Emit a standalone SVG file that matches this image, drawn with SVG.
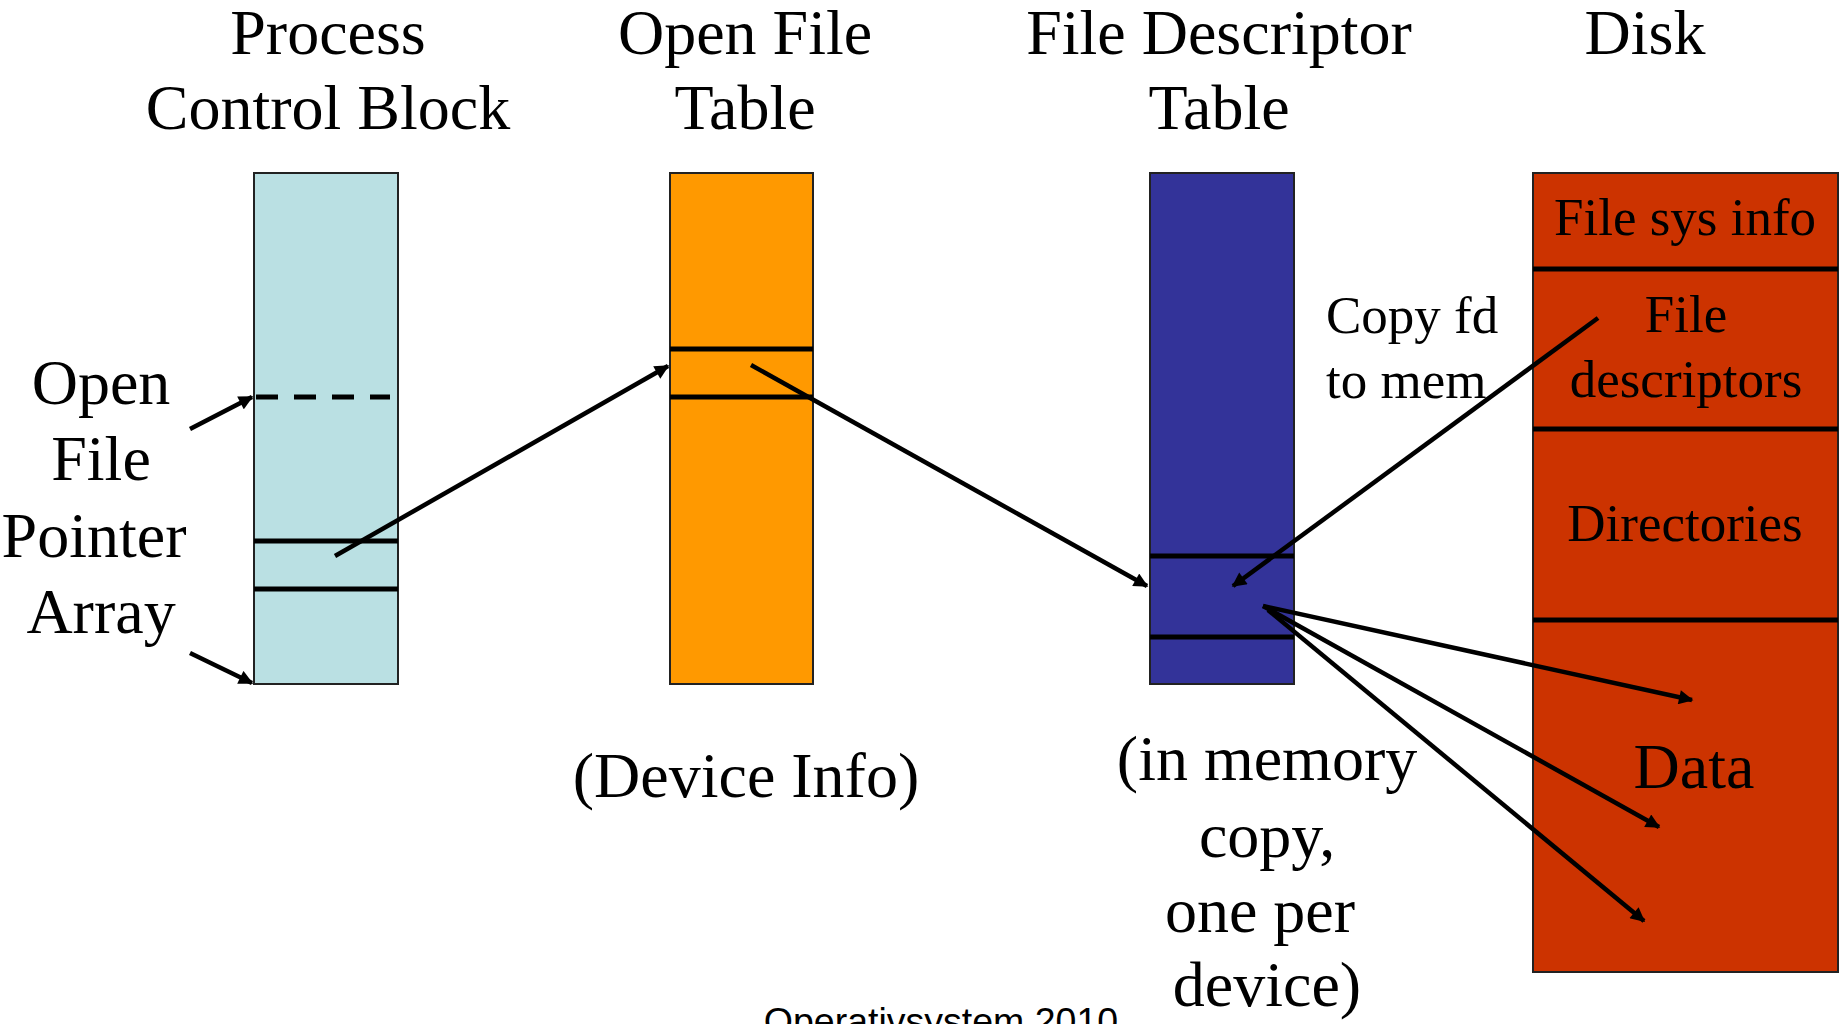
<svg xmlns="http://www.w3.org/2000/svg" width="1845" height="1024" viewBox="0 0 1845 1024">
<style>
text{font-family:"Liberation Serif","Times New Roman",serif;fill:#000}
.big{font-size:64px}
.mid{font-size:53px}
.box{stroke:#222;stroke-width:2}
.sep{stroke:#000;stroke-width:5}
.arr{stroke:#000;stroke-width:4.5;fill:none;marker-end:url(#ah)}
</style>
<defs>
<marker id="ah" viewBox="0 0 10 10" refX="9" refY="5" markerWidth="3.6" markerHeight="3.2" orient="auto" markerUnits="strokeWidth">
<path d="M0,0 L10,5 L0,10 z" fill="#000"/>
</marker>
</defs>
<rect width="1845" height="1024" fill="#fff"/>
<g id="titles" text-anchor="middle">
<text class="big" x="328" y="54">Process</text>
<text class="big" x="328" y="129">Control Block</text>
<text class="big" x="745" y="54">Open File</text>
<text class="big" x="745" y="129">Table</text>
<text class="big" x="1219" y="54">File Descriptor</text>
<text class="big" x="1219" y="129">Table</text>
<text class="big" x="1645" y="54">Disk</text>
</g>
<g id="pcb">
<rect class="box" x="254" y="173" width="144" height="511" fill="#BAE0E3"/>
<line x1="256" y1="397" x2="390" y2="397" stroke="#000" stroke-width="5" stroke-dasharray="22,16"/>
<line class="sep" x1="254" y1="541" x2="398" y2="541"/>
<line class="sep" x1="254" y1="589" x2="398" y2="589"/>
</g>
<g id="oft">
<rect class="box" x="670" y="173" width="143" height="511" fill="#FF9900"/>
<line class="sep" x1="670" y1="349" x2="813" y2="349"/>
<line class="sep" x1="670" y1="397" x2="813" y2="397"/>
</g>
<g id="fdt">
<rect class="box" x="1150" y="173" width="144" height="511" fill="#333399"/>
<line class="sep" x1="1150" y1="556" x2="1294" y2="556"/>
<line class="sep" x1="1150" y1="637" x2="1294" y2="637"/>
</g>
<g id="disk">
<rect class="box" x="1533" y="173" width="305" height="799" fill="#CC3300"/>
<line class="sep" x1="1533" y1="269" x2="1838" y2="269"/>
<line class="sep" x1="1533" y1="429" x2="1838" y2="429"/>
<line class="sep" x1="1533" y1="620" x2="1838" y2="620"/>
<g text-anchor="middle">
<text class="mid" x="1685" y="235">File sys info</text>
<text class="mid" x="1686" y="332">File</text>
<text class="mid" x="1686" y="397">descriptors</text>
<text class="mid" x="1685" y="541">Directories</text>
<text class="big" x="1694" y="788">Data</text>
</g>
</g>
<g id="labels">
<g text-anchor="middle">
<text class="big" x="101" y="404">Open</text>
<text class="big" x="101" y="480">File</text>
<text class="big" x="94" y="557">Pointer</text>
<text class="big" x="101" y="633">Array</text>
<text class="big" x="746" y="797">(Device Info)</text>
<text class="big" x="1267" y="780">(in memory</text>
<text class="big" x="1267" y="857">copy,</text>
<text class="big" x="1260" y="932">one per</text>
<text class="big" x="1267" y="1006">device)</text>
</g>
<text class="mid" x="1326" y="333">Copy fd</text>
<text class="mid" x="1326" y="398">to mem</text>
<text x="941" y="1034" text-anchor="middle" style="font-family:'Liberation Sans',Arial,sans-serif;font-size:37.5px">Operativsystem 2010</text>
</g>
<g id="connectors">
<line class="arr" x1="190" y1="429" x2="252" y2="397"/>
<line class="arr" x1="190" y1="653" x2="252" y2="683"/>
<line class="arr" x1="335" y1="556" x2="668" y2="366"/>
<line class="arr" x1="751" y1="365" x2="1147" y2="586"/>
<line class="arr" x1="1598" y1="318" x2="1233" y2="586"/>
<line class="arr" x1="1263" y1="606" x2="1692" y2="700"/>
<line class="arr" x1="1263" y1="606" x2="1659" y2="827"/>
<line class="arr" x1="1268" y1="610" x2="1644" y2="921"/>
</g>
</svg>
